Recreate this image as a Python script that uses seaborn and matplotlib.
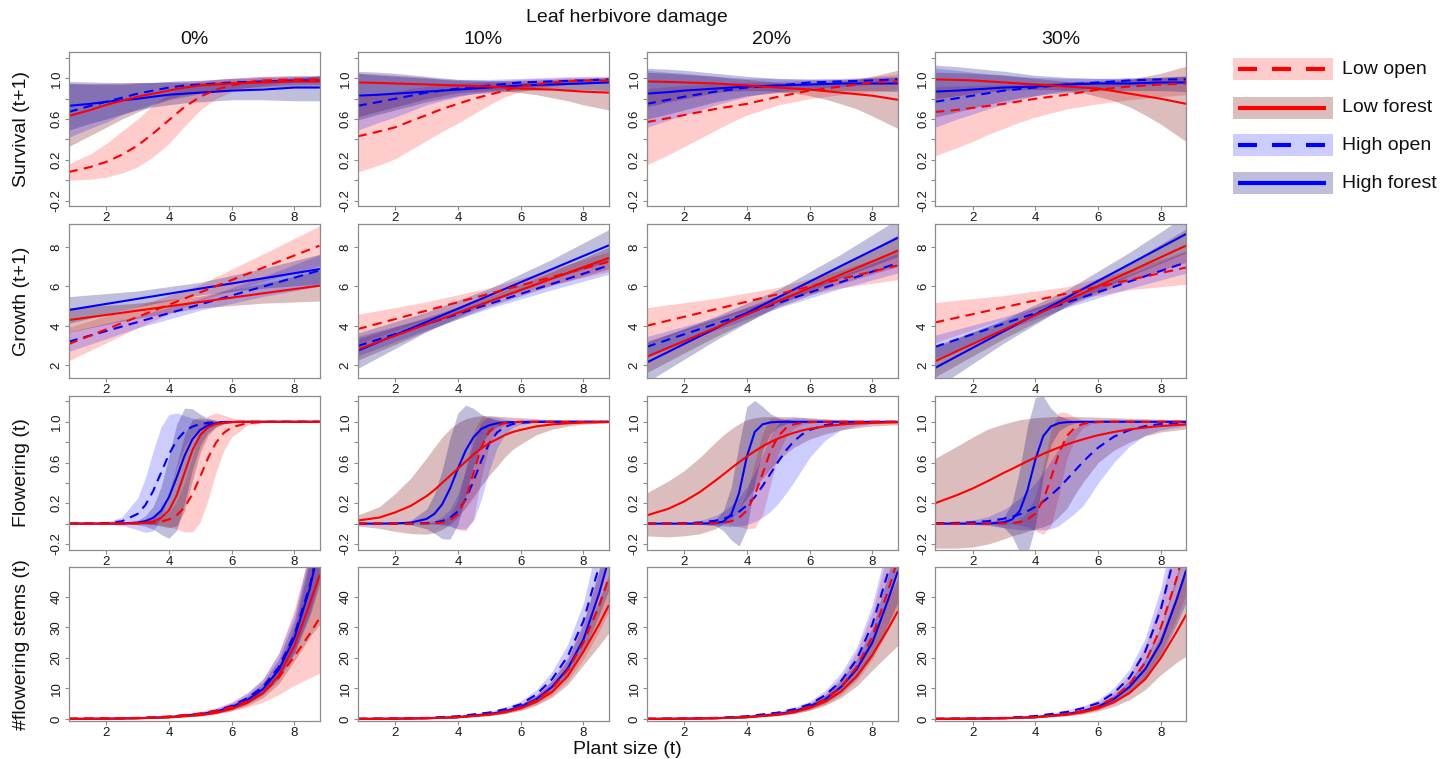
import matplotlib
matplotlib.use("Agg")
import matplotlib.pyplot as plt
from matplotlib.patches import Rectangle
from matplotlib.lines import Line2D
import pandas as pd
import seaborn as sns

# ---------------------------------------------------------------- data
DAMAGE = ["0%", "10%", "20%", "30%"]
GROUPS = ["Low open", "Low forest", "High open", "High forest"]

# Survival (t+1): predicted probability and 95% band, one row per damage level
SURV_X = [0.8, 1.5, 2, 2.5, 3, 3.5, 4, 4.5, 5, 5.5, 6, 6.5, 7, 7.5, 8, 8.8]
surv_low_open_fit = [
    [0.08, 0.13, 0.18, 0.25, 0.34, 0.46, 0.59, 0.72, 0.82, 0.89, 0.93, 0.96, 0.98, 0.985, 0.99, 0.99],
    [0.43, 0.48, 0.52, 0.58, 0.64, 0.7, 0.75, 0.8, 0.84, 0.88, 0.92, 0.94, 0.96, 0.97, 0.98, 0.98],
    [0.57, 0.61, 0.64, 0.67, 0.7, 0.725, 0.75, 0.785, 0.82, 0.85, 0.88, 0.9, 0.92, 0.94, 0.96, 0.97],
    [0.67, 0.69, 0.71, 0.73, 0.75, 0.775, 0.8, 0.82, 0.84, 0.865, 0.89, 0.905, 0.92, 0.93, 0.94, 0.95],
]
surv_low_open_lower = [
    [0.0, 0.01, 0.03, 0.07, 0.13, 0.23, 0.36, 0.53, 0.69, 0.8, 0.87, 0.91, 0.93, 0.95, 0.96, 0.96],
    [0.08, 0.15, 0.21, 0.3, 0.39, 0.48, 0.56, 0.65, 0.74, 0.82, 0.87, 0.9, 0.92, 0.94, 0.95, 0.95],
    [0.15, 0.25, 0.33, 0.41, 0.49, 0.57, 0.64, 0.69, 0.74, 0.77, 0.8, 0.82, 0.84, 0.855, 0.87, 0.89],
    [0.24, 0.32, 0.38, 0.45, 0.51, 0.57, 0.62, 0.66, 0.7, 0.725, 0.75, 0.77, 0.79, 0.805, 0.82, 0.84],
]
surv_low_open_upper = [
    [0.16, 0.26, 0.36, 0.48, 0.6, 0.74, 0.85, 0.93, 0.97, 0.99, 1.0, 1.01, 1.02, 1.02, 1.02, 1.02],
    [0.82, 0.85, 0.87, 0.9, 0.92, 0.94, 0.95, 0.96, 0.97, 0.98, 0.99, 1.0, 1.0, 1.01, 1.01, 1.01],
    [0.9, 0.92, 0.93, 0.94, 0.95, 0.955, 0.96, 0.965, 0.97, 0.975, 0.98, 0.985, 0.99, 1.0, 1.02, 1.04],
    [0.92, 0.925, 0.93, 0.935, 0.94, 0.945, 0.955, 0.96, 0.97, 0.975, 0.98, 0.985, 0.99, 1.0, 1.01, 1.03],
]
surv_low_forest_fit = [
    [0.63, 0.69, 0.74, 0.78, 0.82, 0.85, 0.88, 0.91, 0.93, 0.94, 0.95, 0.955, 0.96, 0.965, 0.97, 0.97],
    [0.96, 0.955, 0.95, 0.945, 0.94, 0.935, 0.93, 0.925, 0.92, 0.91, 0.9, 0.895, 0.89, 0.88, 0.87, 0.86],
    [0.97, 0.965, 0.96, 0.955, 0.95, 0.94, 0.93, 0.92, 0.91, 0.9, 0.89, 0.875, 0.86, 0.845, 0.83, 0.79],
    [0.99, 0.985, 0.98, 0.97, 0.96, 0.95, 0.94, 0.93, 0.92, 0.91, 0.9, 0.875, 0.85, 0.825, 0.8, 0.75],
]
surv_low_forest_lower = [
    [0.33, 0.44, 0.52, 0.6, 0.67, 0.74, 0.79, 0.82, 0.85, 0.87, 0.89, 0.9, 0.91, 0.915, 0.92, 0.92],
    [0.62, 0.68, 0.72, 0.76, 0.8, 0.83, 0.86, 0.87, 0.88, 0.875, 0.86, 0.84, 0.81, 0.78, 0.74, 0.69],
    [0.72, 0.77, 0.8, 0.83, 0.86, 0.875, 0.88, 0.88, 0.87, 0.855, 0.83, 0.795, 0.75, 0.7, 0.63, 0.51],
    [0.8, 0.83, 0.85, 0.87, 0.88, 0.89, 0.89, 0.89, 0.88, 0.86, 0.82, 0.78, 0.72, 0.64, 0.55, 0.38],
]
surv_low_forest_upper = [
    [0.95, 0.95, 0.95, 0.95, 0.96, 0.96, 0.97, 0.975, 0.98, 0.99, 1.0, 1.0, 1.01, 1.01, 1.02, 1.02],
    [1.05, 1.04, 1.03, 1.02, 1.01, 0.99, 0.98, 0.975, 0.97, 0.965, 0.96, 0.965, 0.97, 0.975, 0.98, 0.99],
    [1.06, 1.05, 1.04, 1.03, 1.02, 1.0, 0.99, 0.975, 0.96, 0.955, 0.95, 0.955, 0.97, 0.99, 1.02, 1.08],
    [1.06, 1.055, 1.05, 1.04, 1.03, 1.015, 1.0, 0.985, 0.97, 0.965, 0.97, 0.98, 0.99, 1.02, 1.05, 1.12],
]
surv_high_open_fit = [
    [0.67, 0.73, 0.77, 0.81, 0.85, 0.88, 0.91, 0.93, 0.94, 0.95, 0.96, 0.965, 0.97, 0.975, 0.98, 0.98],
    [0.73, 0.77, 0.8, 0.83, 0.86, 0.88, 0.9, 0.915, 0.93, 0.945, 0.96, 0.965, 0.97, 0.975, 0.98, 0.99],
    [0.75, 0.79, 0.82, 0.845, 0.87, 0.89, 0.91, 0.92, 0.93, 0.945, 0.96, 0.965, 0.97, 0.975, 0.98, 0.99],
    [0.77, 0.805, 0.83, 0.855, 0.88, 0.895, 0.91, 0.925, 0.94, 0.95, 0.96, 0.97, 0.98, 0.985, 0.99, 0.99],
]
surv_high_open_lower = [
    [0.42, 0.51, 0.57, 0.64, 0.7, 0.75, 0.8, 0.84, 0.87, 0.89, 0.9, 0.91, 0.92, 0.93, 0.94, 0.94],
    [0.49, 0.57, 0.62, 0.68, 0.74, 0.78, 0.82, 0.85, 0.87, 0.89, 0.9, 0.915, 0.93, 0.94, 0.95, 0.96],
    [0.52, 0.59, 0.64, 0.69, 0.74, 0.78, 0.82, 0.85, 0.87, 0.89, 0.9, 0.91, 0.92, 0.93, 0.94, 0.95],
    [0.52, 0.6, 0.65, 0.7, 0.75, 0.79, 0.83, 0.86, 0.88, 0.895, 0.91, 0.92, 0.93, 0.935, 0.94, 0.95],
]
surv_high_open_upper = [
    [0.95, 0.94, 0.94, 0.94, 0.95, 0.96, 0.97, 0.975, 0.98, 0.99, 1.0, 1.01, 1.02, 1.025, 1.03, 1.03],
    [1.05, 1.03, 1.02, 1.01, 1.0, 0.995, 0.99, 0.99, 0.99, 0.995, 1.0, 1.005, 1.01, 1.015, 1.02, 1.02],
    [1.08, 1.06, 1.05, 1.035, 1.02, 1.01, 1.0, 1.0, 0.995, 0.995, 0.995, 1.0, 1.0, 1.005, 1.01, 1.02],
    [1.1, 1.08, 1.06, 1.045, 1.035, 1.02, 1.01, 1.005, 1.0, 1.0, 1.0, 1.0, 1.01, 1.01, 1.01, 1.02],
]
surv_high_forest_fit = [
    [0.73, 0.75, 0.77, 0.785, 0.8, 0.82, 0.84, 0.85, 0.86, 0.87, 0.88, 0.885, 0.89, 0.9, 0.91, 0.91],
    [0.83, 0.84, 0.85, 0.86, 0.87, 0.88, 0.89, 0.9, 0.91, 0.92, 0.93, 0.935, 0.94, 0.945, 0.95, 0.96],
    [0.85, 0.865, 0.88, 0.89, 0.9, 0.91, 0.92, 0.925, 0.93, 0.935, 0.94, 0.945, 0.95, 0.95, 0.95, 0.95],
    [0.87, 0.88, 0.89, 0.9, 0.91, 0.915, 0.92, 0.93, 0.94, 0.945, 0.95, 0.95, 0.95, 0.955, 0.96, 0.96],
]
surv_high_forest_lower = [
    [0.49, 0.56, 0.6, 0.65, 0.69, 0.72, 0.74, 0.76, 0.77, 0.78, 0.79, 0.79, 0.79, 0.785, 0.78, 0.78],
    [0.59, 0.65, 0.69, 0.73, 0.77, 0.8, 0.83, 0.85, 0.86, 0.87, 0.88, 0.885, 0.89, 0.89, 0.89, 0.88],
    [0.6, 0.65, 0.69, 0.73, 0.77, 0.8, 0.83, 0.845, 0.86, 0.87, 0.88, 0.88, 0.88, 0.88, 0.88, 0.87],
    [0.62, 0.67, 0.71, 0.745, 0.78, 0.81, 0.83, 0.85, 0.86, 0.87, 0.88, 0.88, 0.88, 0.88, 0.88, 0.87],
]
surv_high_forest_upper = [
    [0.97, 0.965, 0.96, 0.96, 0.96, 0.96, 0.96, 0.96, 0.96, 0.965, 0.97, 0.975, 0.98, 0.99, 1.0, 1.03],
    [1.07, 1.06, 1.05, 1.035, 1.02, 1.005, 0.99, 0.985, 0.98, 0.98, 0.98, 0.985, 0.99, 0.995, 1.0, 1.01],
    [1.1, 1.09, 1.08, 1.065, 1.05, 1.035, 1.02, 1.01, 1.0, 0.995, 0.99, 0.99, 0.99, 0.995, 1.0, 1.01],
    [1.13, 1.115, 1.1, 1.085, 1.07, 1.05, 1.03, 1.02, 1.01, 1.005, 1.0, 1.0, 1.0, 1.005, 1.01, 1.02],
]

# Growth (t+1)
GROWTH_X = [0.8, 3, 5, 7, 8.8]
growth_low_open_fit = [[3.07, 4.45, 5.7, 6.95, 8.07], [3.83, 4.77, 5.63, 6.48, 7.25],
                       [4.0, 4.84, 5.61, 6.38, 7.06], [4.17, 4.94, 5.64, 6.33, 6.96]]
growth_low_open_lower = [[2.22, 3.9, 5.3, 6.25, 7.07], [3.08, 4.32, 5.33, 6.08, 6.75],
                         [3.08, 4.29, 5.26, 5.93, 6.34], [3.15, 4.34, 5.29, 5.83, 6.11]]
growth_low_open_upper = [[3.92, 5.0, 6.1, 7.65, 9.07], [4.58, 5.22, 5.93, 6.88, 7.75],
                         [4.92, 5.39, 5.96, 6.83, 7.78], [5.19, 5.54, 5.99, 6.83, 7.81]]
growth_low_forest_fit = [[4.29, 4.77, 5.21, 5.65, 6.04], [2.8, 4.08, 5.24, 6.4, 7.44],
                         [2.42, 3.9, 5.25, 6.6, 7.81], [2.2, 3.81, 5.28, 6.75, 8.07]]
growth_low_forest_lower = [[3.67, 4.39, 4.91, 5.15, 5.26], [2.25, 3.73, 4.99, 6.05, 6.89],
                           [1.62, 3.45, 4.95, 6.15, 7.01], [1.4, 3.36, 4.98, 6.3, 7.22]]
growth_low_forest_upper = [[4.91, 5.15, 5.51, 6.15, 6.82], [3.35, 4.43, 5.49, 6.75, 7.99],
                           [3.22, 4.35, 5.55, 7.05, 8.61], [3.0, 4.26, 5.58, 7.2, 8.92]]
growth_high_open_fit = [[3.19, 4.19, 5.09, 5.99, 6.81], [2.97, 4.09, 5.11, 6.13, 7.06],
                        [2.93, 4.1, 5.16, 6.22, 7.18], [2.93, 4.11, 5.18, 6.25, 7.22]]
growth_high_open_lower = [[2.69, 3.89, 4.79, 5.49, 6.01], [2.47, 3.79, 4.89, 5.83, 6.61],
                          [2.41, 3.78, 4.91, 5.9, 6.68], [2.33, 3.76, 4.93, 5.9, 6.67]]
growth_high_open_upper = [[3.69, 4.49, 5.39, 6.49, 7.61], [3.47, 4.39, 5.33, 6.43, 7.51],
                          [3.45, 4.42, 5.41, 6.54, 7.68], [3.53, 4.46, 5.43, 6.6, 7.77]]
growth_high_forest_fit = [[4.8, 5.37, 5.89, 6.41, 6.88], [2.73, 4.2, 5.54, 6.88, 8.08],
                          [2.13, 3.87, 5.45, 7.04, 8.46], [1.86, 3.73, 5.43, 7.13, 8.66]]
growth_high_forest_lower = [[4.12, 4.97, 5.57, 5.91, 6.13], [1.83, 3.7, 5.19, 6.38, 7.28],
                            [1.13, 3.27, 5.05, 6.44, 7.51], [0.81, 3.13, 5.03, 6.53, 7.71]]
growth_high_forest_upper = [[5.48, 5.77, 6.21, 6.91, 7.63], [3.63, 4.7, 5.89, 7.38, 8.88],
                            [3.13, 4.47, 5.85, 7.64, 9.41], [2.91, 4.33, 5.83, 7.73, 9.61]]

# Flowering (t)
FLOWER_X = [0.8, 1.5, 2, 2.5, 3, 3.25, 3.5, 3.75, 4, 4.25, 4.5, 4.75, 5, 5.25, 5.5, 5.75,
            6, 6.5, 7, 7.5, 8, 8.8]
flower_low_open_fit = [
    [0, 0, 0, 0, 0.002, 0.005, 0.009, 0.02, 0.041, 0.083, 0.161, 0.289, 0.463, 0.646, 0.794, 0.891, 0.945, 0.987, 0.997, 1, 1, 1],
    [0, 0, 0, 0, 0.001, 0.004, 0.011, 0.033, 0.095, 0.245, 0.5, 0.755, 0.905, 0.967, 0.989, 0.996, 0.999, 1, 1, 1, 1, 1],
    [0, 0, 0, 0.001, 0.004, 0.009, 0.023, 0.057, 0.13, 0.28, 0.49, 0.71, 0.86, 0.94, 0.975, 0.99, 0.996, 0.999, 1, 1, 1, 1],
    [0, 0, 0, 0, 0.002, 0.005, 0.015, 0.04, 0.1, 0.23, 0.45, 0.69, 0.86, 0.94, 0.978, 0.992, 0.997, 1, 1, 1, 1, 1],
]
flower_low_open_lower = [
    [0, 0, 0, 0, -0.002, -0.004, -0.007, -0.015, -0.03, -0.054, -0.082, -0.081, 0.015, 0.234, 0.5, 0.716, 0.851, 0.964, 0.992, 1, 1, 1],
    [0, 0, 0, 0, 0, -0.002, -0.006, -0.018, -0.06, -0.07, 0.05, 0.459, 0.767, 0.916, 0.972, 0.99, 0.998, 1, 1, 1, 1, 1],
    [0, 0, 0, 0, -0.002, -0.005, -0.013, -0.029, -0.051, -0.043, 0.09, 0.381, 0.691, 0.85, 0.936, 0.974, 0.99, 0.997, 1, 1, 1, 1],
    [0, 0, 0, 0, -0.002, -0.004, -0.013, -0.033, -0.071, -0.106, -0.02, 0.284, 0.631, 0.833, 0.937, 0.977, 0.991, 1, 1, 1, 1, 1],
]
flower_low_open_upper = [
    [0, 0, 0, 0, 0.006, 0.014, 0.025, 0.055, 0.112, 0.22, 0.404, 0.659, 0.911, 1.058, 1.088, 1.066, 1.039, 1.01, 1.002, 1, 1, 1],
    [0, 0, 0, 0, 0.002, 0.01, 0.028, 0.084, 0.233, 0.541, 0.9, 1.051, 1.043, 1.018, 1.006, 1.002, 1.0, 1, 1, 1, 1, 1],
    [0, 0, 0, 0.002, 0.01, 0.023, 0.059, 0.143, 0.311, 0.603, 0.89, 1.039, 1.029, 1.03, 1.014, 1.006, 1.002, 1.001, 1, 1, 1, 1],
    [0, 0, 0, 0, 0.006, 0.014, 0.043, 0.113, 0.271, 0.566, 0.92, 1.096, 1.089, 1.047, 1.019, 1.007, 1.003, 1, 1, 1, 1, 1],
]
flower_low_forest_fit = [
    [0, 0, 0, 0, 0.003, 0.009, 0.022, 0.055, 0.13, 0.279, 0.5, 0.721, 0.87, 0.945, 0.978, 0.991, 0.997, 1, 1, 1, 1, 1],
    [0.03, 0.06, 0.11, 0.175, 0.27, 0.33, 0.4, 0.47, 0.54, 0.61, 0.68, 0.74, 0.79, 0.83, 0.87, 0.9, 0.92, 0.955, 0.974, 0.985, 0.992, 0.997],
    [0.08, 0.146, 0.218, 0.31, 0.423, 0.483, 0.544, 0.603, 0.659, 0.711, 0.759, 0.8, 0.836, 0.866, 0.892, 0.914, 0.931, 0.956, 0.973, 0.983, 0.989, 0.995],
    [0.2, 0.28, 0.345, 0.42, 0.5, 0.536, 0.575, 0.613, 0.65, 0.685, 0.717, 0.748, 0.777, 0.803, 0.826, 0.848, 0.868, 0.9, 0.925, 0.944, 0.958, 0.974],
]
flower_low_forest_lower = [
    [0, 0, 0, 0, -0.001, -0.004, -0.01, -0.023, -0.04, -0.023, 0.125, 0.419, 0.7, 0.867, 0.946, 0.978, 0.993, 1, 1, 1, 1, 1],
    [-0.023, -0.047, -0.076, -0.098, -0.104, -0.09, -0.056, -0.005, 0.065, 0.159, 0.264, 0.375, 0.475, 0.562, 0.655, 0.729, 0.78, 0.873, 0.927, 0.957, 0.977, 0.991],
    [-0.12, -0.13, -0.12, -0.1, -0.05, 0.0, 0.05, 0.14, 0.25, 0.35, 0.45, 0.54, 0.62, 0.69, 0.75, 0.79, 0.83, 0.88, 0.92, 0.94, 0.96, 0.97],
    [-0.24, -0.24, -0.23, -0.2, -0.15, -0.12, -0.1, -0.075, -0.05, -0.03, 0.0, 0.07, 0.15, 0.28, 0.4, 0.5, 0.6, 0.72, 0.8, 0.86, 0.9, 0.93],
]
flower_low_forest_upper = [
    [0, 0, 0, 0, 0.007, 0.022, 0.054, 0.133, 0.3, 0.581, 0.875, 1.023, 1.04, 1.023, 1.01, 1.004, 1.001, 1, 1, 1, 1, 1],
    [0.083, 0.167, 0.296, 0.448, 0.644, 0.75, 0.85, 0.93, 0.99, 1.03, 1.05, 1.06, 1.06, 1.055, 1.05, 1.045, 1.04, 1.03, 1.02, 1.012, 1.007, 1.003],
    [0.3, 0.42, 0.52, 0.65, 0.8, 0.87, 0.93, 0.98, 1.02, 1.04, 1.05, 1.05, 1.05, 1.05, 1.05, 1.045, 1.04, 1.03, 1.02, 1.015, 1.01, 1.01],
    [0.64, 0.76, 0.85, 0.93, 0.98, 1.0, 1.02, 1.03, 1.04, 1.045, 1.05, 1.05, 1.05, 1.05, 1.05, 1.047, 1.045, 1.04, 1.035, 1.03, 1.025, 1.02],
]
flower_high_open_fit = [
    [0, 0.001, 0.005, 0.023, 0.095, 0.182, 0.321, 0.5, 0.679, 0.818, 0.905, 0.953, 0.977, 0.989, 0.995, 0.998, 0.999, 1, 1, 1, 1, 1],
    [0, 0, 0, 0.001, 0.005, 0.011, 0.026, 0.057, 0.12, 0.24, 0.42, 0.62, 0.79, 0.895, 0.95, 0.978, 0.99, 0.998, 1, 1, 1, 1],
    [0, 0.002, 0.004, 0.011, 0.029, 0.047, 0.075, 0.117, 0.18, 0.26, 0.37, 0.49, 0.61, 0.72, 0.81, 0.874, 0.92, 0.968, 0.988, 0.996, 0.998, 1.0],
    [0.003, 0.007, 0.013, 0.025, 0.049, 0.067, 0.092, 0.124, 0.165, 0.217, 0.28, 0.352, 0.433, 0.517, 0.6, 0.677, 0.746, 0.853, 0.919, 0.957, 0.978, 0.992],
]
flower_high_open_lower = [
    [0, -0.001, -0.004, -0.017, -0.06, -0.086, -0.071, 0.05, 0.287, 0.55, 0.75, 0.872, 0.937, 0.969, 0.986, 0.994, 0.997, 1, 1, 1, 1, 1],
    [0, 0, 0, 0, -0.003, -0.006, -0.015, -0.029, -0.049, -0.052, 0.03, 0.243, 0.525, 0.745, 0.874, 0.944, 0.974, 0.995, 1, 1, 1, 1],
    [0, -0.002, -0.004, -0.01, -0.02, -0.025, -0.03, -0.025, -0.01, 0.02, 0.06, 0.12, 0.2, 0.3, 0.41, 0.53, 0.65, 0.82, 0.92, 0.96, 0.98, 0.99],
    [-0.004, -0.006, -0.009, -0.02, -0.04, -0.05, -0.06, -0.06, -0.06, -0.06, -0.05, -0.02, 0.04, 0.1, 0.17, 0.28, 0.4, 0.6, 0.76, 0.87, 0.92, 0.96],
]
flower_high_open_upper = [
    [0, 0.003, 0.014, 0.063, 0.25, 0.45, 0.713, 0.95, 1.071, 1.086, 1.06, 1.034, 1.017, 1.009, 1.004, 1.002, 1.001, 1, 1, 1, 1, 1],
    [0, 0, 0, 0.002, 0.013, 0.028, 0.067, 0.143, 0.289, 0.532, 0.81, 0.997, 1.055, 1.045, 1.026, 1.012, 1.006, 1.001, 1, 1, 1, 1],
    [0, 0.005, 0.012, 0.03, 0.08, 0.12, 0.18, 0.26, 0.36, 0.5, 0.68, 0.86, 0.98, 1.03, 1.04, 1.04, 1.03, 1.02, 1.01, 1.005, 1.0, 1.0],
    [0.01, 0.02, 0.035, 0.07, 0.14, 0.19, 0.25, 0.32, 0.4, 0.5, 0.62, 0.74, 0.85, 0.93, 0.98, 1.01, 1.02, 1.025, 1.02, 1.015, 1.01, 1.005],
]
flower_high_forest_fit = [
    [0, 0, 0, 0.002, 0.01, 0.025, 0.057, 0.127, 0.259, 0.456, 0.668, 0.829, 0.921, 0.965, 0.985, 0.994, 0.997, 1, 1, 1, 1, 1],
    [0, 0, 0.002, 0.01, 0.046, 0.096, 0.19, 0.345, 0.54, 0.72, 0.85, 0.93, 0.966, 0.985, 0.993, 0.997, 0.999, 1, 1, 1, 1, 1],
    [0, 0, 0, 0, 0.005, 0.02, 0.09, 0.3, 0.66, 0.9, 0.975, 0.994, 0.999, 1, 1, 1, 1, 1, 1, 1, 1, 1],
    [0, 0, 0, 0.001, 0.012, 0.04, 0.125, 0.33, 0.63, 0.86, 0.955, 0.987, 0.996, 0.999, 1, 1, 1, 1, 1, 1, 1, 1],
]
flower_high_forest_lower = [
    [0, 0, 0, -0.002, -0.011, -0.026, -0.056, -0.106, -0.144, -0.065, 0.202, 0.531, 0.768, 0.894, 0.954, 0.981, 0.991, 1, 1, 1, 1, 1],
    [0, 0, -0.002, -0.012, -0.051, -0.095, -0.149, -0.152, -0.007, 0.276, 0.569, 0.787, 0.894, 0.953, 0.978, 0.99, 0.997, 1, 1, 1, 1, 1],
    [0, 0, 0, 0, -0.02, -0.07, -0.16, -0.22, -0.05, 0.4, 0.72, 0.88, 0.95, 0.98, 0.99, 0.995, 1, 1, 1, 1, 1, 1],
    [0, 0, 0, -0.005, -0.04, -0.12, -0.28, -0.3, -0.02, 0.47, 0.78, 0.91, 0.96, 0.985, 0.995, 1, 1, 1, 1, 1, 1, 1],
]
flower_high_forest_upper = [
    [0, 0, 0, 0.006, 0.031, 0.076, 0.17, 0.36, 0.662, 0.977, 1.134, 1.127, 1.074, 1.036, 1.016, 1.007, 1.003, 1, 1, 1, 1, 1],
    [0, 0, 0.006, 0.032, 0.143, 0.287, 0.529, 0.842, 1.087, 1.164, 1.131, 1.073, 1.038, 1.017, 1.008, 1.004, 1.001, 1, 1, 1, 1, 1],
    [0, 0, 0, 0.005, 0.04, 0.13, 0.36, 0.78, 1.15, 1.21, 1.15, 1.08, 1.04, 1.02, 1.01, 1.005, 1, 1, 1, 1, 1, 1],
    [0, 0, 0, 0.007, 0.065, 0.2, 0.53, 0.96, 1.24, 1.25, 1.13, 1.06, 1.03, 1.013, 1.005, 1, 1, 1, 1, 1, 1, 1],
]

# Number of flowering stems (t)
STEMS_X = [0.8, 2, 3, 4, 5, 5.5, 6, 6.5, 7, 7.5, 8, 8.5, 8.8]
stems_low_open_fit = [
    [0.1, 0.2, 0.35, 0.8, 1.7, 2.6, 3.9, 5.8, 8.5, 13.5, 20.5, 28.0, 33.0],
    [0.03, 0.1, 0.25, 0.6, 1.5, 2.4, 3.8, 6.2, 10.0, 16.0, 25.0, 37.0, 46.0],
    [0.03, 0.1, 0.25, 0.6, 1.55, 2.5, 4.0, 6.5, 10.5, 17.0, 27.0, 42.0, 52.0],
    [0.03, 0.1, 0.25, 0.6, 1.6, 2.6, 4.2, 6.9, 11.3, 18.5, 30.0, 46.0, 58.0],
]
stems_low_open_lower = [
    [0.0, 0.05, 0.15, 0.45, 1.1, 1.7, 2.6, 3.8, 5.5, 8.0, 11.0, 13.5, 15.0],
    [0.01, 0.05, 0.15, 0.4, 1.1, 1.8, 2.9, 4.8, 7.8, 12.5, 19.5, 28.5, 35.0],
    [0.01, 0.05, 0.15, 0.4, 1.1, 1.8, 2.9, 4.8, 7.8, 12.5, 19.5, 29.0, 35.0],
    [0.01, 0.05, 0.15, 0.4, 1.1, 1.8, 3.0, 5.0, 8.2, 13.5, 21.5, 33.0, 41.0],
]
stems_low_open_upper = [
    [0.25, 0.45, 0.7, 1.3, 2.5, 3.7, 5.6, 8.6, 13.0, 21.5, 36.0, 55.0, 70.0],
    [0.07, 0.16, 0.36, 0.85, 2.0, 3.1, 4.9, 7.9, 12.8, 20.5, 32.0, 48.0, 60.0],
    [0.07, 0.16, 0.36, 0.85, 2.1, 3.3, 5.2, 8.5, 13.7, 22.0, 35.0, 55.0, 68.0],
    [0.07, 0.16, 0.36, 0.85, 2.2, 3.5, 5.5, 9.0, 14.6, 24.0, 39.0, 60.0, 76.0],
]
stems_low_forest_fit = [
    [0.03, 0.08, 0.2, 0.5, 1.25, 2.0, 3.3, 5.3, 8.5, 14.2, 23.9, 38.0, 47.0],
    [0.03, 0.08, 0.2, 0.55, 1.4, 2.2, 3.5, 5.6, 8.8, 14.0, 22.0, 31.0, 37.0],
    [0.03, 0.08, 0.2, 0.55, 1.4, 2.2, 3.6, 5.7, 9.0, 14.0, 21.0, 29.5, 35.0],
    [0.03, 0.08, 0.2, 0.55, 1.4, 2.2, 3.5, 5.5, 8.5, 13.0, 20.0, 28.5, 34.0],
]
stems_low_forest_lower = [
    [0.0, 0.04, 0.12, 0.35, 0.95, 1.6, 2.7, 4.4, 7.0, 11.5, 19.0, 27.0, 31.0],
    [0.01, 0.04, 0.12, 0.38, 1.05, 1.7, 2.8, 4.5, 7.1, 11.3, 17.7, 24.0, 28.0],
    [0.01, 0.04, 0.12, 0.38, 1.05, 1.7, 2.8, 4.5, 7.0, 10.8, 16.0, 21.0, 24.0],
    [0.01, 0.04, 0.12, 0.38, 1.0, 1.6, 2.6, 4.1, 6.3, 9.6, 14.5, 18.5, 20.5],
]
stems_low_forest_upper = [
    [0.07, 0.14, 0.3, 0.7, 1.6, 2.5, 4.0, 6.4, 10.3, 17.5, 30.0, 52.0, 70.0],
    [0.06, 0.13, 0.3, 0.75, 1.8, 2.8, 4.3, 6.9, 10.9, 17.3, 27.0, 39.0, 47.0],
    [0.06, 0.13, 0.3, 0.75, 1.8, 2.8, 4.5, 7.1, 11.2, 17.5, 27.0, 39.0, 46.0],
    [0.06, 0.13, 0.3, 0.75, 1.85, 2.9, 4.6, 7.2, 11.3, 17.6, 27.5, 41.0, 50.0],
]
stems_high_open_fit = [
    [0.05, 0.12, 0.3, 0.7, 1.75, 2.7, 4.3, 6.8, 10.5, 17.0, 27.5, 44.0, 58.0],
    [0.05, 0.15, 0.35, 0.9, 2.1, 3.2, 4.8, 8.0, 13.0, 20.5, 32.0, 50.0, 62.0],
    [0.05, 0.15, 0.35, 0.9, 2.1, 3.2, 4.8, 7.8, 12.4, 19.5, 31.0, 48.0, 60.0],
    [0.05, 0.15, 0.35, 0.95, 2.3, 3.5, 5.2, 8.5, 13.5, 22.0, 36.0, 56.0, 70.0],
]
stems_high_open_lower = [
    [0.02, 0.07, 0.2, 0.5, 1.35, 2.1, 3.4, 5.4, 8.4, 13.6, 22.0, 35.0, 46.0],
    [0.02, 0.1, 0.27, 0.7, 1.7, 2.6, 3.9, 6.5, 10.8, 17.0, 27.0, 42.0, 52.0],
    [0.02, 0.1, 0.26, 0.7, 1.7, 2.6, 3.9, 6.3, 10.2, 16.0, 25.5, 39.0, 48.0],
    [0.02, 0.1, 0.26, 0.75, 1.8, 2.8, 4.2, 6.9, 11.0, 18.0, 29.5, 45.0, 56.0],
]
stems_high_open_upper = [
    [0.1, 0.2, 0.45, 0.95, 2.25, 3.4, 5.4, 8.5, 13.2, 21.5, 34.5, 56.0, 74.0],
    [0.1, 0.22, 0.45, 1.1, 2.5, 3.8, 5.8, 9.6, 15.5, 24.5, 38.0, 60.0, 75.0],
    [0.1, 0.22, 0.45, 1.1, 2.5, 3.8, 5.8, 9.4, 15.0, 23.5, 37.5, 58.0, 73.0],
    [0.1, 0.22, 0.45, 1.15, 2.8, 4.2, 6.3, 10.2, 16.3, 26.5, 43.0, 67.0, 84.0],
]
stems_high_forest_fit = [
    [0.03, 0.1, 0.25, 0.6, 1.55, 2.4, 3.9, 6.2, 9.8, 16.0, 26.5, 43.0, 57.0],
    [0.03, 0.1, 0.25, 0.6, 1.6, 2.5, 4.0, 6.5, 10.5, 16.5, 26.0, 41.0, 52.0],
    [0.03, 0.1, 0.25, 0.62, 1.6, 2.5, 4.1, 6.5, 10.5, 16.3, 25.0, 39.0, 48.0],
    [0.03, 0.1, 0.25, 0.6, 1.6, 2.5, 4.0, 6.5, 10.5, 16.3, 25.0, 39.0, 48.5],
]
stems_high_forest_lower = [
    [0.0, 0.05, 0.15, 0.45, 1.2, 1.9, 3.1, 5.0, 8.0, 13.0, 21.5, 34.0, 44.0],
    [0.01, 0.06, 0.17, 0.45, 1.25, 2.0, 3.3, 5.4, 8.8, 14.0, 22.0, 34.0, 42.0],
    [0.01, 0.06, 0.17, 0.47, 1.25, 2.0, 3.3, 5.3, 8.6, 13.4, 20.5, 31.0, 38.0],
    [0.01, 0.06, 0.17, 0.45, 1.25, 2.0, 3.2, 5.3, 8.6, 13.4, 20.5, 31.0, 38.0],
]
stems_high_forest_upper = [
    [0.08, 0.18, 0.4, 0.85, 2.0, 3.0, 4.8, 7.6, 12.0, 19.5, 32.5, 54.0, 72.0],
    [0.06, 0.15, 0.35, 0.8, 2.0, 3.1, 4.8, 7.7, 12.4, 19.5, 31.0, 49.0, 63.0],
    [0.06, 0.15, 0.35, 0.82, 2.0, 3.1, 5.0, 7.9, 12.6, 19.6, 30.0, 47.0, 60.0],
    [0.06, 0.15, 0.35, 0.8, 2.0, 3.1, 4.9, 7.9, 12.6, 19.6, 30.0, 47.0, 60.0],
]

# ------------------------------------------------------------ long table
METRICS = {
    "survival": (SURV_X, {
        "Low open": (surv_low_open_fit, surv_low_open_lower, surv_low_open_upper),
        "Low forest": (surv_low_forest_fit, surv_low_forest_lower, surv_low_forest_upper),
        "High open": (surv_high_open_fit, surv_high_open_lower, surv_high_open_upper),
        "High forest": (surv_high_forest_fit, surv_high_forest_lower, surv_high_forest_upper),
    }),
    "growth": (GROWTH_X, {
        "Low open": (growth_low_open_fit, growth_low_open_lower, growth_low_open_upper),
        "Low forest": (growth_low_forest_fit, growth_low_forest_lower, growth_low_forest_upper),
        "High open": (growth_high_open_fit, growth_high_open_lower, growth_high_open_upper),
        "High forest": (growth_high_forest_fit, growth_high_forest_lower, growth_high_forest_upper),
    }),
    "flowering": (FLOWER_X, {
        "Low open": (flower_low_open_fit, flower_low_open_lower, flower_low_open_upper),
        "Low forest": (flower_low_forest_fit, flower_low_forest_lower, flower_low_forest_upper),
        "High open": (flower_high_open_fit, flower_high_open_lower, flower_high_open_upper),
        "High forest": (flower_high_forest_fit, flower_high_forest_lower, flower_high_forest_upper),
    }),
    "stems": (STEMS_X, {
        "Low open": (stems_low_open_fit, stems_low_open_lower, stems_low_open_upper),
        "Low forest": (stems_low_forest_fit, stems_low_forest_lower, stems_low_forest_upper),
        "High open": (stems_high_open_fit, stems_high_open_lower, stems_high_open_upper),
        "High forest": (stems_high_forest_fit, stems_high_forest_lower, stems_high_forest_upper),
    }),
}

records = []
for metric, (xs, series) in METRICS.items():
    for group, (fit, low, high) in series.items():
        for d, dmg in enumerate(DAMAGE):
            assert len(fit[d]) == len(low[d]) == len(high[d]) == len(xs), (metric, group, dmg)
            for x, f, lo, hi in zip(xs, fit[d], low[d], high[d]):
                records.append((metric, dmg, group, x, f, lo, hi))
df = pd.DataFrame(records, columns=["metric", "damage", "group", "size", "fit", "lower", "upper"])

# ---------------------------------------------------------------- style
sns.set_theme(style="ticks")
plt.rcParams["font.family"] = ["Liberation Sans", "DejaVu Sans"]

DASH = (0, (4.5, 3.0))
STYLE = {
    "Low open": dict(color="#ff0000", ls=DASH, band=(1.0, 0.0, 0.0, 0.20)),
    "Low forest": dict(color="#ff0000", ls="-", band=(0.5, 0.05, 0.05, 0.27)),
    "High open": dict(color="#0000ff", ls=DASH, band=(0.0, 0.0, 1.0, 0.20)),
    "High forest": dict(color="#0000ff", ls="-", band=(0.0, 0.0, 0.45, 0.25)),
}
BAND_ORDER = ["Low open", "Low forest", "High open", "High forest"]
LINE_ORDER = ["High open", "High forest", "Low open", "Low forest"]

PROB_TICKS = [-0.2, 0.0, 0.2, 0.4, 0.6, 0.8, 1.0, 1.2]
PROB_LABELS = ["-0.2", "", "0.2", "", "0.6", "", "1.0", ""]
ROWS = [
    ("survival", "Survival (t+1)", (-0.256, 1.256), PROB_TICKS, PROB_LABELS),
    ("growth", "Growth (t+1)", (1.35, 9.17), [2, 4, 6, 8], ["2", "4", "6", "8"]),
    ("flowering", "Flowering (t)", (-0.256, 1.256), PROB_TICKS, PROB_LABELS),
    ("stems", "#flowering stems (t)", (-0.8, 49.6), [0, 10, 20, 30, 40],
     ["0", "10", "20", "30", "40"]),
]

FIG_W, FIG_H = 1454, 759
fig = plt.figure(figsize=(FIG_W / 100, FIG_H / 100), dpi=100)
fig.patch.set_facecolor("white")

COL_LEFT = [68.5, 357.5, 646.5, 935.0]
PANEL_W = 251
ROW_TOP = [52.3, 224.0, 395.7, 567.4]
PANEL_H = 154
FRAME = "#8c8c8c"


def px_axes(left, top, width, height):
    return fig.add_axes([left / FIG_W, 1 - (top + height) / FIG_H,
                         width / FIG_W, height / FIG_H])


for r, (metric, row_label, ylim, yticks, ylabels) in enumerate(ROWS):
    for c, dmg in enumerate(DAMAGE):
        ax = px_axes(COL_LEFT[c], ROW_TOP[r], PANEL_W, PANEL_H)
        panel = df[(df.metric == metric) & (df.damage == dmg)]
        for g in BAND_ORDER:
            sub = panel[panel.group == g]
            ax.fill_between(sub["size"], sub["lower"], sub["upper"],
                            color=STYLE[g]["band"], linewidth=0)
        for g in LINE_ORDER:
            sub = panel[panel.group == g]
            sns.lineplot(data=sub, x="size", y="fit", ax=ax, color=STYLE[g]["color"],
                         linewidth=1.5, estimator=None, sort=False, legend=False)
            ax.lines[-1].set_linestyle(STYLE[g]["ls"])
        ax.set_xlim(0.8, 8.8)
        ax.set_ylim(*ylim)
        ax.set_xticks([2, 4, 6, 8])
        ax.set_xticklabels(["2", "4", "6", "8"])
        ax.set_yticks(yticks)
        ax.set_yticklabels(ylabels, rotation=90, va="center")
        ax.set_xlabel("")
        ax.set_ylabel("")
        ax.set_facecolor("white")
        ax.tick_params(axis="both", direction="out", length=2.8, width=0.8, color=FRAME,
                       labelsize=9.5, labelcolor="#1a1a1a", pad=1.5)
        for sp in ax.spines.values():
            sp.set_color(FRAME)
            sp.set_linewidth(0.9)
            sp.set_visible(True)

        if r == 0:
            fig.text((COL_LEFT[c] + PANEL_W / 2) / FIG_W, 1 - 40 / FIG_H, dmg,
                     ha="center", va="center", fontsize=14, color="#111111")
    fig.text(22 / FIG_W, 1 - (ROW_TOP[r] + PANEL_H / 2) / FIG_H, row_label,
             rotation=90, ha="center", va="center", fontsize=14, color="#111111")

fig.text(627 / FIG_W, 1 - 17 / FIG_H, "Leaf herbivore damage",
         ha="center", va="center", fontsize=14, color="#111111")
fig.text(627 / FIG_W, 1 - 749.5 / FIG_H, "Plant size (t)",
         ha="center", va="center", fontsize=14, color="#111111")

# ---------------------------------------------------------------- legend
lax = fig.add_axes([0, 0, 1, 1])
lax.set_xlim(0, FIG_W)
lax.set_ylim(FIG_H, 0)
lax.axis("off")
lax.patch.set_alpha(0)
LEG_Y = [69, 108, 145, 183]
for g, yc in zip(GROUPS, LEG_Y):
    st = STYLE[g]
    lax.add_patch(Rectangle((1233, yc - 11), 100, 22, facecolor=st["band"], edgecolor="none"))
    line = Line2D([1238, 1326], [yc, yc], color=st["color"], linewidth=3.0,
                  solid_capstyle="butt", dash_capstyle="butt")
    if st["ls"] != "-":
        line.set_linestyle((0, (4.56, 3.6)))
    lax.add_line(line)
    lax.text(1342, yc, g, ha="left", va="center", fontsize=14, color="#111111")

fig.savefig("out.png", dpi=100)
